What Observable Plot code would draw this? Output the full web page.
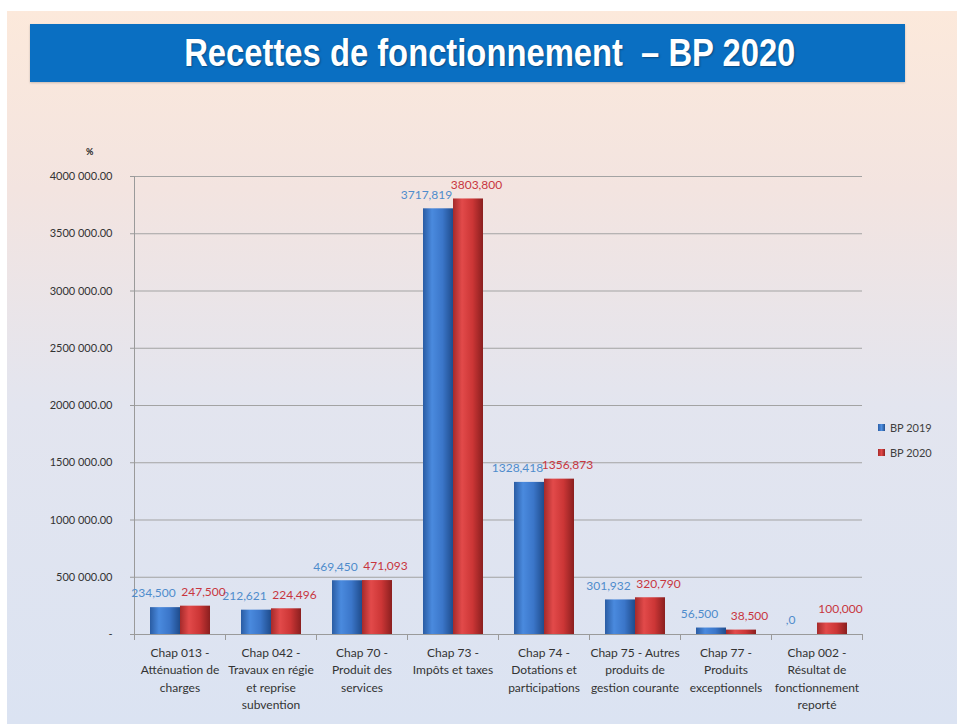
<!DOCTYPE html>
<html>
<head>
<meta charset="utf-8">
<script src="https://cdn.jsdelivr.net/npm/d3@7"></script>
<script src="https://cdn.jsdelivr.net/npm/@observablehq/plot@0.6"></script>
<style>
  html, body { margin: 0; padding: 0; background: #ffffff; }
  #page { position: relative; width: 957px; height: 724px; overflow: hidden; background: #ffffff; }
  #bg { position: absolute; left: 7px; top: 11px; right: 0; bottom: 0;
        background: linear-gradient(to bottom, #fce9db 0%, #f3e4e0 25%, #e3e5ef 55%, #dbe3f2 100%); }
  #title { position: absolute; left: 30px; top: 24px; width: 875px; height: 58px;
           background: #0a6fc2; color: #ffffff; text-align: center;
           font-family: "Liberation Sans", Arial, sans-serif;
           font-weight: bold; font-size: 39px; line-height: 58px;
           box-shadow: 0 1px 2px rgba(0,0,0,0.2); }
  #title span { display: inline-block; position: relative; left: 22px; transform: scaleX(0.84); text-shadow: 1px 1px 2px rgba(0,0,0,0.35); white-space: nowrap; }
  #chart { position: absolute; left: 0; top: 140px; }
  #pct { position: absolute; left: 86px; top: 146px; font-family: Lato, sans-serif; font-size: 9px; font-weight: bold; color: #222; }
  .leg { position: absolute; left: 878px; font-family: Lato, sans-serif; font-size: 11px; color: #404040; display: flex; align-items: center; }
  .leg span.sw { display: inline-block; width: 7px; height: 7px; margin-right: 5px; }
</style>
</head>
<body>
<div id="page">
  <div id="bg"></div>
  <div id="title"><span>Recettes de fonctionnement&nbsp; – BP 2020</span></div>
  <div id="chart"></div>
  <div id="pct">%</div>
  <div class="leg" style="top:421px"><span class="sw" style="background:linear-gradient(to right,#2c5fa8,#4f8fe0,#23508f)"></span>BP 2019</div>
  <div class="leg" style="top:446px"><span class="sw" style="background:linear-gradient(to right,#a82a2a,#e04848,#8f2020)"></span>BP 2020</div>
</div>
<script>
const categories = [
  "Chap 013 -\nAtténuation de\ncharges",
  "Chap 042 -\nTravaux en régie\net reprise\nsubvention",
  "Chap 70 -\nProduit des\nservices",
  "Chap 73 -\nImpôts et taxes",
  "Chap 74 -\nDotations et\nparticipations",
  "Chap 75 - Autres\nproduits de\ngestion courante",
  "Chap 77 -\nProduits\nexceptionnels",
  "Chap 002 -\nRésultat de\nfonctionnement\nreporté"
];
const series = ["BP 2019", "BP 2020"];
const bp2019 = [234500, 212621, 469450, 3717819, 1328418, 301932, 56500, 0];
const bp2020 = [247500, 224496, 471093, 3803800, 1356873, 320790, 38500, 100000];
const yTicks = [0, 500000, 1000000, 1500000, 2000000, 2500000, 3000000, 3500000, 4000000];
const yTickLabels = ["-", "500 000.00", "1000 000.00", "1500 000.00", "2000 000.00", "2500 000.00", "3000 000.00", "3500 000.00", "4000 000.00"];

const rows = [];
categories.forEach((c, i) => {
  rows.push({cat: c, series: series[0], value: bp2019[i]});
  rows.push({cat: c, series: series[1], value: bp2020[i]});
});
const fmt = v => v === 0 ? ",0" : `${Math.floor(v / 1000)},${String(v % 1000).padStart(3, "0")}`;

const plotHeight = 584, mTop = 36, mBottom = 90;
const innerH = plotHeight - mTop - mBottom;

const chart = Plot.plot({
  width: 957,
  height: plotHeight,
  marginLeft: 130,
  marginRight: 92,
  marginTop: mTop,
  marginBottom: mBottom,
  style: {background: "transparent", fontFamily: "Lato, sans-serif", color: "#333"},
  fx: {domain: categories, padding: 0, label: null},
  x: {domain: series, paddingInner: 0, paddingOuter: 0.5, axis: null},
  y: {domain: [0, 4000000], axis: null},
  color: {domain: series, range: ["url(#gBlue)", "url(#gRed)"]},
  marks: [
    Plot.ruleY(yTicks.slice(1), {stroke: "#a3a3a3", strokeWidth: 1}),
    Plot.ruleY([0], {stroke: "#9a9a9a", strokeWidth: 1}),
    Plot.frame({anchor: "left", facet: "super", stroke: "#9a9a9a"}),
    Plot.frame({anchor: "left", stroke: "#9a9a9a", insetTop: innerH, insetBottom: -5}),
    Plot.frame({anchor: "right", stroke: "#9a9a9a", insetTop: innerH, insetBottom: -5}),
    Plot.axisY({ticks: yTicks, tickFormat: d => yTickLabels[yTicks.indexOf(d)], tickSize: 4, tickPadding: 18, fontSize: 11, label: null, stroke: "#9a9a9a", fill: "#333"}),
    Plot.axisFx({anchor: "bottom", tickSize: 0, tickPadding: 10, lineHeight: 1.45, fontSize: 12, label: null, fill: "#333"}),
    Plot.barY(rows, {fx: "cat", x: "series", y: "value", fill: "series"}),
    Plot.text(rows.filter(d => d.series === series[0]), {fx: "cat", x: "series", y: "value", text: d => fmt(d.value), dy: -14, dx: -12, fill: "#4f8ccc", fontSize: 12, lineAnchor: "middle"}),
    Plot.text(rows.filter(d => d.series === series[1]), {fx: "cat", x: "series", y: "value", text: d => fmt(d.value), dy: -14, dx: 8, fill: "#c8363f", fontSize: 12, lineAnchor: "middle"})
  ]
});

const svgEl = chart.tagName.toLowerCase() === "svg" ? chart : chart.querySelector("svg");
const defs = d3.select(svgEl).insert("defs", ":first-child");
function grad(id, stops) {
  const g = defs.append("linearGradient").attr("id", id).attr("x1", "0").attr("x2", "1").attr("y1", "0").attr("y2", "0");
  stops.forEach(([o, c]) => g.append("stop").attr("offset", o).attr("stop-color", c));
}
grad("gBlue", [["0%", "#2a5ca3"], ["30%", "#4a8ade"], ["65%", "#3b76c9"], ["100%", "#1f4c8c"]]);
grad("gRed", [["0%", "#a52a2a"], ["30%", "#e24a4a"], ["65%", "#cc3636"], ["100%", "#8a1f1f"]]);

document.getElementById("chart").appendChild(chart);
</script>
</body>
</html>
